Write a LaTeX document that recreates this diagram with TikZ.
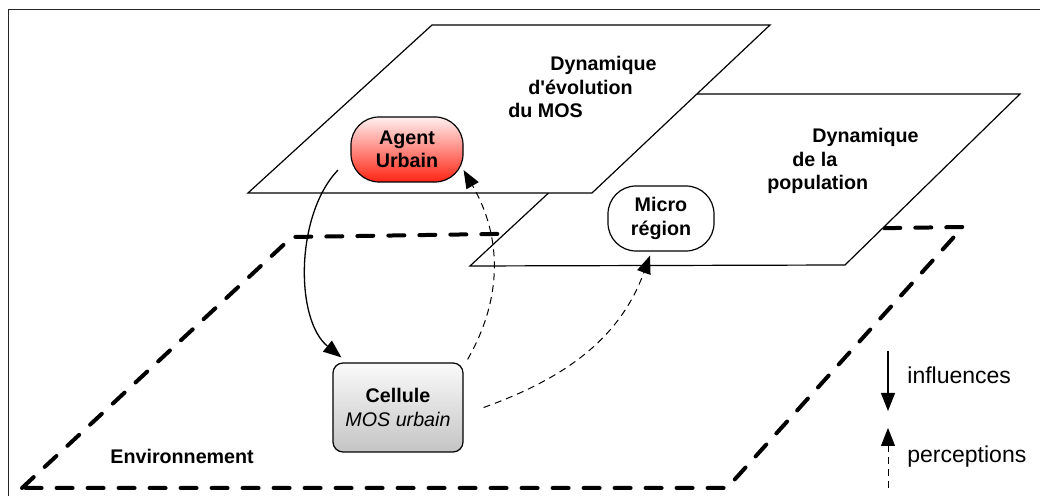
\documentclass[tikz,border=0pt]{standalone}
\usepackage{fontspec}
\setmainfont{Liberation Sans}
\usetikzlibrary{arrows.meta,calc}
\definecolor{agenttop}{RGB}{255,240,240}
\definecolor{agentbot}{RGB}{255,36,20}
\definecolor{celltop}{RGB}{250,250,250}
\definecolor{cellbot}{RGB}{196,196,196}

\begin{document}
\begin{tikzpicture}[
  x=0.5pt, y=-0.5pt,
  frame/.style={draw=black!85, line width=0.5pt},
  plane/.style={draw, fill=white, line width=0.6pt},
  envline/.style={line width=2pt, dash pattern=on 8pt off 7.5pt, line cap=round},
  lbl/.style={font=\fontsize{9.85}{11.75}\selectfont\bfseries, inner sep=0pt},
  legend/.style={font=\fontsize{11.5}{13.8}\selectfont, inner sep=0pt},
  roundbox/.style={draw, line width=0.6pt, rounded corners=14pt, minimum width=56pt, minimum height=32.5pt, align=center, lbl},
  agentbox/.style={roundbox, top color=agenttop, bottom color=agentbot},
  microbox/.style={roundbox, fill=white, minimum width=53pt},
  cellbox/.style={draw, line width=0.6pt, rounded corners=5pt, minimum width=65pt, minimum height=44.5pt, align=center, top color=celltop, bottom color=cellbot, lbl},
  arr/.style={-{Triangle[length=9pt,width=7pt]}, line width=0.65pt},
  parr/.style={arr, line width=0.5pt, dash pattern=on 3.5pt off 2.5pt}
]
\useasboundingbox (0,0) rectangle (1040,496);

% frame
\draw[frame] (8,496) -- (8,10) -- (1040,10);

% environment plane
\draw[envline] (22,488) -- (292,237) -- (963,227) -- (727,488) -- cycle;
\node[lbl, anchor=base west] (env) at (110,464) {Environnement};

% population plane
\draw[plane] (470,266) -- (655,94) -- (1020,94) -- (845,265) -- cycle;
\node[lbl, anchor=west, align=left] (poplbl) at (767,161)
  {\hspace*{22.5pt}Dynamique\\\hspace*{12.5pt}de la\\population};

% MOS plane
\draw[plane] (248,193) -- (432,25) -- (770,25) -- (592,193) -- cycle;
\node[lbl, anchor=west, align=left] (moslbl) at (508,87)
  {\hspace*{21pt}Dynamique\\\hspace*{10pt}d\textquotesingle évolution\\du MOS};

% agents and cells
\node[agentbox] (agent) at (407,149.5) {Agent\\Urbain};
\node[microbox] (micro) at (661,218.5) {Micro\\région};
\node[cellbox] (cell) at (398,407.5) {Cellule\\\mdseries\itshape MOS urbain};

% influences and perceptions
\coordinate (inflStart) at (338,170);
\draw[arr] (inflStart) .. controls (295,215) and (295,320) .. ([xshift=4.5pt,yshift=2.5pt]cell.north west);
\draw[parr] ([xshift=2pt,yshift=1.5pt]cell.north east) .. controls (504,296) and (501,235) .. (agent.-20);
\draw[parr] ([xshift=10pt]cell.east) .. controls (566,378) and (620,338) .. ([xshift=-5.5pt,yshift=-2pt]micro.south);

% legend
\coordinate (inflTop) at (888,351);
\coordinate (inflBot) at (888,411);
\coordinate (percBot) at (888,488);
\coordinate (percTop) at (888,428);
\draw[arr] (inflTop) -- (inflBot);
\draw[parr] (percBot) -- (percTop);
\node[legend, anchor=base west] (infl) at (907,384) {influences};
\node[legend, anchor=base west] (perc) at (907,463) {perceptions};

\end{tikzpicture}
\end{document}
